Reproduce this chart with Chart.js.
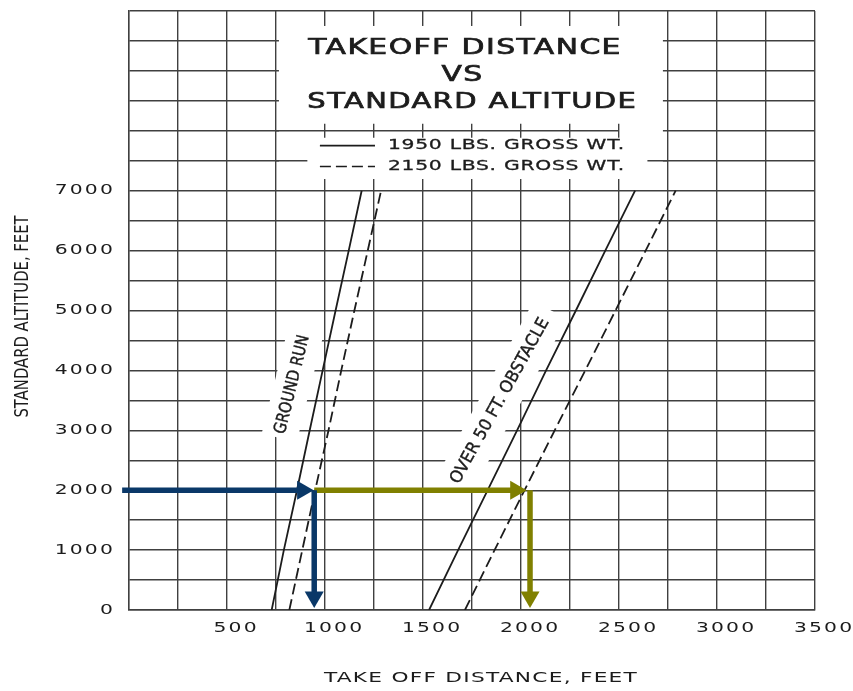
<!DOCTYPE html>
<html lang="en">
<head>
<meta charset="UTF-8">
<title>Takeoff Distance vs Standard Altitude</title>
<script src="https://cdn.jsdelivr.net/npm/chart.js@4.4.1/dist/chart.umd.min.js"></script>
<style>
    html, body { margin: 0; padding: 0; background: #fff; }
    #chart { display: block; }
</style>
</head>
<body>
<canvas id="chart" width="853" height="691"></canvas>
<script>
// altitudes (ft) at which the four curves were read
const altitudes = [0, 1000, 2000, 3000, 4000, 5000, 6000, 7000];
// take-off distance (ft)
const groundRun1950 = [728, 790, 857, 922, 988, 1054, 1121, 1187];
const groundRun2150 = [818, 884, 950, 1018, 1083, 1150, 1218, 1286];
const obstacle1950 = [1531, 1679, 1830, 1980, 2128, 2280, 2430, 2582];
const obstacle2150 = [1714, 1865, 2018, 2172, 2328, 2482, 2636, 2789];

// worked example drawn with arrows (2150 lbs at 2000 ft)
const exampleAltitude = 2000;
const exampleGroundRun = 945;
const exampleObstacle = 2046;
const navyLegX = [-35, 886];       // from the altitude scale to the ground run curve
const oliveLegX = [945, 1973];     // on to the obstacle curve
const dropAltitudes = [2000, 215]; // down to the distance scale

const xTickValues = [500, 1000, 1500, 2000, 2500, 3000, 3500];
const xTickLabels = ['500', '1000', '1500', '2000', '2500', '3000', '3500'];
const yTickValues = [0, 1000, 2000, 3000, 4000, 5000, 6000, 7000];
const yTickLabels = ['0', '1000', '2000', '3000', '4000', '5000', '6000', '7000'];

const FONT = "'DejaVu Sans', 'Liberation Sans', sans-serif";
const INK = '#1c1c1c';
const GRID = '#404040';
const GRID_W = 1.4;
const NAVY = '#0a3868';
const OLIVE = '#808000';
const DASH = [11, 5];

function curve(values) {
    return values.map((v, i) => ({ x: v, y: altitudes[i] }));
}

function arrow(points, color, rotation) {
    return {
        data: points,
        borderColor: color,
        backgroundColor: color,
        pointBackgroundColor: color,
        borderWidth: 5.5,
        pointStyle: 'triangle',
        pointRotation: rotation,
        pointRadius: [0, 11],
        pointBorderWidth: 0,
        clip: false,
        order: 0
    };
}

// run one of the scale's own draw steps with a tweaked context
function styled(scale, method, setup, cleanup) {
    if (scale['_styled_' + method]) return;
    const original = scale[method];
    scale[method] = function (...args) {
        const ctx = this.ctx;
        ctx.save();
        setup(ctx, this);
        original.apply(this, args);
        if (cleanup) cleanup(ctx);
        ctx.restore();
    };
    scale['_styled_' + method] = true;
}

// the lettering on the sheet is wide: stretch each tick label about its anchor
function wideTicks(scale, sx, spacing) {
    styled(scale, 'drawLabels', ctx => {
        ctx.letterSpacing = spacing + 'px';
        const fill = CanvasRenderingContext2D.prototype.fillText;
        ctx.fillText = function (t, x, y) {
            this.save();
            this.scale(sx, 1);
            fill.call(this, t, x / sx + (this.textAlign === 'center' ? spacing / 2 : 0), y);
            this.restore();
        };
    }, ctx => { delete ctx.fillText; });
}

function text(ctx, str, px, py, o) {
    const spacing = o.spacing || 0;
    const sx = o.sx || 1;
    const tx = (o.align || 'center') === 'center' ? spacing / 2 : 0;
    ctx.save();
    ctx.translate(px, py);
    if (o.angle) ctx.rotate(o.angle * Math.PI / 180);
    ctx.scale(sx, 1);
    ctx.font = o.size + 'px ' + FONT;
    ctx.letterSpacing = spacing + 'px';
    ctx.textAlign = o.align || 'center';
    ctx.textBaseline = 'middle';
    ctx.fillStyle = INK;
    ctx.fillText(str, tx, 0);
    if (o.weight) {
        ctx.strokeStyle = INK;
        ctx.lineWidth = o.weight;
        ctx.strokeText(str, tx, 0);
    }
    ctx.restore();
}

function blank(ctx, cx, cy, angle, halfLen, halfWid) {
    ctx.save();
    ctx.translate(cx, cy);
    ctx.rotate(angle * Math.PI / 180);
    ctx.fillRect(-halfLen, -halfWid, halfLen * 2, halfWid * 2);
    ctx.restore();
}

const align = v => Math.round(v - GRID_W / 2) + GRID_W / 2;

// lettering, legend and the gaps in the grid around them
const sheetPlugin = {
    id: 'sheet',
    beforeDatasetsDraw(chart) {
        const { ctx, scales: { x, y } } = chart;
        const px = v => x.getPixelForValue(v);
        const py = v => y.getPixelForValue(v);
        ctx.save();

        ctx.fillStyle = '#fff';
        ctx.fillRect(px(765), py(9750), px(2724) - px(765), py(7195) - py(9750));
        blank(ctx, px(834), py(3763), -76, 55, 18);
        blank(ctx, px(1893), py(3488), -61, 104, 19);

        // pieces of grid that cross the title block
        ctx.strokeStyle = GRID;
        ctx.lineWidth = GRID_W;
        ctx.beginPath();
        const y8 = align(py(8000));
        ctx.moveTo(px(750), y8);
        ctx.lineTo(align(px(2500)), y8);
        for (let v = 1000; v <= 2500; v += 250) {
            ctx.moveTo(align(px(v)), y8 - 7);
            ctx.lineTo(align(px(v)), y8 + 7);
        }
        const y75 = align(py(7500));
        ctx.moveTo(px(750), y75);
        ctx.lineTo(px(910), y75);
        ctx.moveTo(px(2645), y75);
        ctx.lineTo(px(2750), y75);
        ctx.stroke();

        const head = { size: 21, sx: 1.42, spacing: 1, weight: 0.7 };
        text(ctx, 'TAKEOFF DISTANCE', px(1711), py(9377), head);
        text(ctx, 'VS', px(1698), py(8929), head);
        text(ctx, 'STANDARD ALTITUDE', px(1748), py(8480), { ...head, sx: 1.38 });

        // legend
        const samples = [
            { alt: 7752, dash: [], label: '1950 LBS. GROSS WT.' },
            { alt: 7404, dash: DASH, label: '2150 LBS. GROSS WT.' }
        ];
        samples.forEach(s => {
            ctx.save();
            ctx.strokeStyle = INK;
            ctx.lineWidth = 1.6;
            ctx.setLineDash(s.dash);
            ctx.beginPath();
            ctx.moveTo(px(974), py(s.alt));
            ctx.lineTo(px(1255), py(s.alt));
            ctx.stroke();
            ctx.restore();
            text(ctx, s.label, px(1321), py(s.alt), { size: 14, sx: 1.45, spacing: 0.5, align: 'left', weight: 0.3 });
        });

        text(ctx, 'GROUND RUN', px(834), py(3763), { size: 17, sx: 0.85, angle: -76, weight: 0.4 });
        text(ctx, 'OVER 50 FT. OBSTACLE', px(1893), py(3488), { size: 17, sx: 0.95, angle: -61, weight: 0.4 });
        ctx.restore();
    }
};

const curveStyle = {
    borderColor: INK,
    borderWidth: 1.8,
    pointRadius: 0,
    tension: 0,
    fill: false,
    order: 1
};

const config = {
    type: 'line',
    data: {
        datasets: [
            arrow(navyLegX.map(v => ({ x: v, y: exampleAltitude })), NAVY, 90),
            arrow(dropAltitudes.map(a => ({ x: exampleGroundRun, y: a })), NAVY, 180),
            arrow(oliveLegX.map(v => ({ x: v, y: exampleAltitude })), OLIVE, 90),
            arrow(dropAltitudes.map(a => ({ x: exampleObstacle, y: a })), OLIVE, 180),
            { label: 'Ground run 1950 lbs', data: curve(groundRun1950), ...curveStyle },
            { label: 'Ground run 2150 lbs', data: curve(groundRun2150), ...curveStyle, borderDash: DASH },
            { label: 'Over 50 ft obstacle 1950 lbs', data: curve(obstacle1950), ...curveStyle },
            { label: 'Over 50 ft obstacle 2150 lbs', data: curve(obstacle2150), ...curveStyle, borderDash: DASH }
        ]
    },
    options: {
        responsive: false,
        animation: false,
        devicePixelRatio: 1,
        events: [],
        layout: { padding: { top: 8, right: 38, bottom: 0, left: 0 } },
        plugins: {
            legend: { display: false },
            tooltip: { enabled: false }
        },
        scales: {
            x: {
                type: 'linear',
                min: 0,
                max: 3500,
                border: { color: GRID, width: GRID_W },
                grid: { color: GRID, lineWidth: GRID_W, drawTicks: false },
                ticks: {
                    stepSize: 250,
                    maxTicksLimit: 50,
                    autoSkip: false,
                    maxRotation: 0,
                    padding: 10,
                    labelOffset: 8,
                    color: INK,
                    font: { family: FONT, size: 14 },
                    callback: v => {
                        const i = xTickValues.indexOf(v);
                        return i < 0 ? '' : xTickLabels[i];
                    }
                },
                title: {
                    display: true,
                    text: 'TAKE OFF DISTANCE, FEET',
                    color: INK,
                    font: { family: FONT, size: 14 },
                    padding: { top: 0, bottom: 4 }
                },
                afterFit(s) {
                    s.height = 81;
                    s.paddingLeft = 0;
                    s.paddingRight = 0;
                    wideTicks(s, 1.45, 1.5);
                    styled(s, 'drawTitle', (ctx, sc) => {
                        const cx = (sc.left + sc.right) / 2;
                        ctx.translate(cx + 9, 0);
                        ctx.scale(1.55, 1);
                        ctx.translate(-cx, 0);
                        ctx.letterSpacing = '0.8px';
                    });
                }
            },
            y: {
                type: 'linear',
                min: 0,
                max: 10000,
                border: { color: GRID, width: GRID_W },
                grid: { color: GRID, lineWidth: GRID_W, drawTicks: false },
                ticks: {
                    stepSize: 500,
                    maxTicksLimit: 50,
                    autoSkip: false,
                    padding: 14,
                    color: INK,
                    font: { family: FONT, size: 14 },
                    callback: v => {
                        const i = yTickValues.indexOf(v);
                        return i < 0 ? '' : yTickLabels[i];
                    }
                },
                title: {
                    display: true,
                    text: 'STANDARD ALTITUDE, FEET',
                    color: INK,
                    font: { family: FONT, size: 20 },
                    padding: { top: 11, bottom: 0 }
                },
                afterFit(s) {
                    s.width = 129;
                    s.paddingTop = 0;
                    s.paddingBottom = 0;
                    wideTicks(s, 1.45, 1.5);
                    styled(s, 'drawTitle', (ctx, sc) => {
                        const cy = (sc.top + sc.bottom) / 2;
                        ctx.translate(0, cy + 6);
                        ctx.scale(1, 0.74);
                        ctx.translate(0, -cy);
                    });
                }
            }
        }
    },
    plugins: [sheetPlugin]
};

new Chart(document.getElementById('chart'), config);
</script>
</body>
</html>
